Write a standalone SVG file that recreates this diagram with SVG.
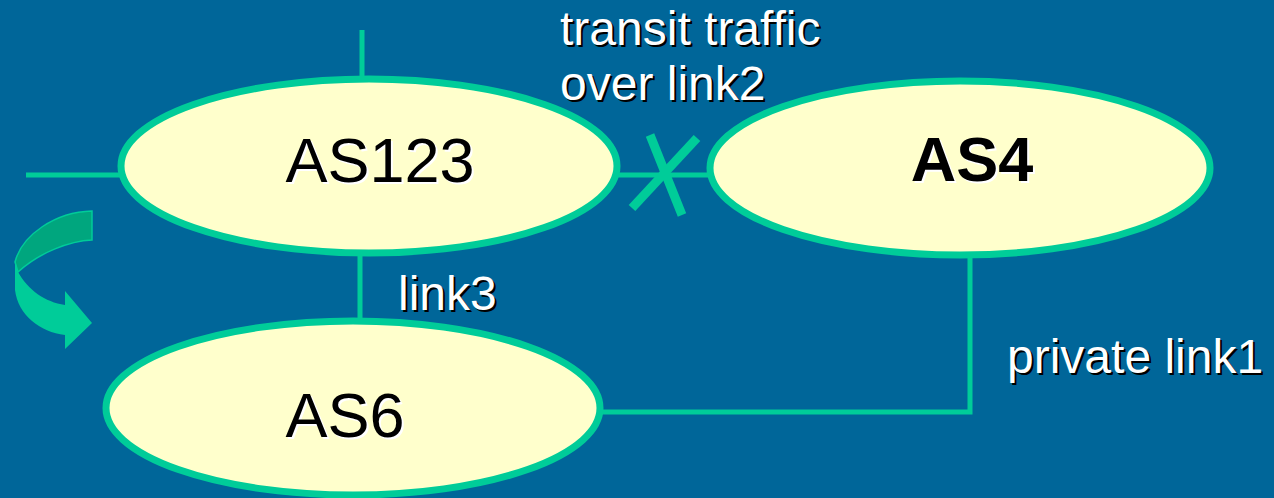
<svg xmlns="http://www.w3.org/2000/svg" width="1274" height="498" viewBox="0 0 1274 498">
<style>
.node{fill:#FFFFCC;stroke:#00CC99;stroke-width:7}
.ln{stroke:#00CC99;stroke-width:5;fill:none}
.lbl{font-family:"Liberation Sans",Arial,sans-serif;font-size:63px;fill:#000}
.lbls{font-family:"Liberation Sans",Arial,sans-serif;font-size:63px;fill:#fff}
.w{font-family:"Liberation Sans",Arial,sans-serif;font-size:48px;fill:#fff}
.ws{font-family:"Liberation Sans",Arial,sans-serif;font-size:48px;fill:#000}
</style>
<rect width="1274" height="498" fill="#006699"/>
<g id="connectors">
<line class="ln" x1="362" y1="30" x2="362" y2="80"/>
<line class="ln" x1="26" y1="175" x2="122" y2="175"/>
<line class="ln" x1="616" y1="175" x2="712" y2="175"/>
<line class="ln" x1="360" y1="252" x2="360" y2="320"/>
<polyline class="ln" points="970,254 970,412 600,412"/>
<line stroke="#00CC99" stroke-width="9" x1="650" y1="135" x2="682" y2="215"/>
<line stroke="#00CC99" stroke-width="9" x1="697" y1="138" x2="632" y2="208"/>
</g>
<g id="arrow">
<path d="M92,211 L92,240 C70,241 40,252 18,272 L15,262 C22,235 55,212 92,211 Z" fill="#00A67E" stroke="#00CC99" stroke-width="1.5"/>
<path d="M15,260 L15,290 C18,315 40,332 65,335 L65,349 L92,323 L65,291 L65,305 C45,302 28,290 18,272 Z" fill="#00CC99"/>
</g>
<g id="AS123">
<ellipse class="node" cx="369" cy="166" rx="248" ry="87"/>
<text class="lbls" x="382" y="184" text-anchor="middle">AS123</text>
<text class="lbl" x="380" y="182" text-anchor="middle">AS123</text>
</g>
<g id="AS4">
<ellipse class="node" cx="960" cy="168" rx="250" ry="87"/>
<text class="lbls" x="974" y="183" text-anchor="middle" font-weight="bold">AS4</text>
<text class="lbl" x="972" y="181" text-anchor="middle" font-weight="bold">AS4</text>
</g>
<g id="AS6">
<ellipse class="node" cx="353" cy="408" rx="247" ry="87"/>
<text class="lbls" x="347" y="439" text-anchor="middle">AS6</text>
<text class="lbl" x="345" y="437" text-anchor="middle">AS6</text>
</g>
<g id="labels">
<text class="ws" x="562" y="47">transit traffic</text>
<text class="w" x="560" y="45">transit traffic</text>
<text class="ws" x="562" y="102">over link2</text>
<text class="w" x="560" y="100">over link2</text>
<text class="ws" x="400" y="312" font-size="46">link3</text>
<text class="w" x="398" y="310" font-size="46">link3</text>
<text class="ws" x="1009" y="375" font-size="46.5">private link1</text>
<text class="w" x="1007" y="373" font-size="46.5">private link1</text>
</g>
</svg>
